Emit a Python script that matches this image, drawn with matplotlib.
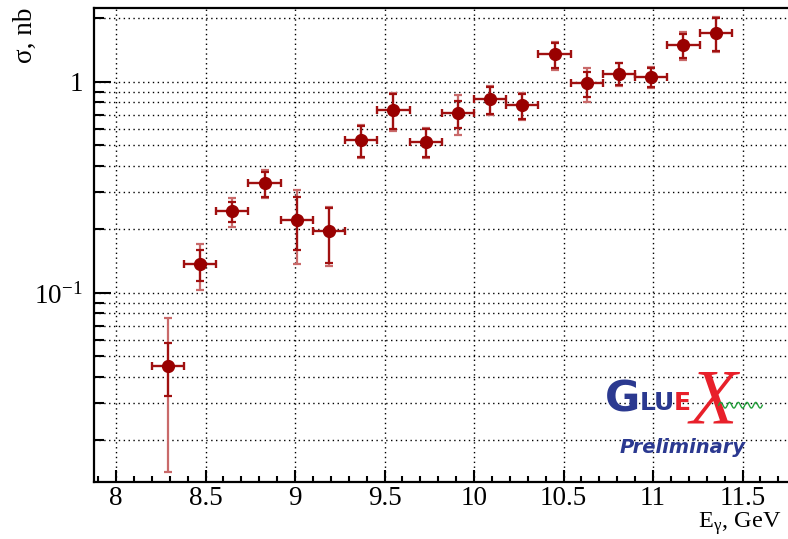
import matplotlib.pyplot as plt
import numpy as np
from matplotlib.ticker import LogLocator, NullFormatter, FixedLocator, MultipleLocator

plt.rcParams['font.family'] = ['Liberation Serif', 'DejaVu Serif']
plt.rcParams['mathtext.fontset'] = 'stix'

# photon energy bins (GeV)
E = [8.29, 8.47, 8.65, 8.83, 9.01, 9.19, 9.37, 9.55, 9.73, 9.91,
     10.09, 10.27, 10.45, 10.63, 10.81, 10.99, 11.17, 11.35]
E_err = [0.09] * 18
# cross section (nb)
sigma = [0.0451, 0.137, 0.245, 0.331, 0.222, 0.197, 0.531, 0.737, 0.521, 0.713,
         0.828, 0.778, 1.353, 0.986, 1.094, 1.056, 1.502, 1.70]
# statistical errors
stat_up = [0.013, 0.023, 0.025, 0.045, 0.064, 0.055, 0.090, 0.135, 0.078, 0.102,
           0.120, 0.100, 0.180, 0.133, 0.130, 0.110, 0.190, 0.300]
stat_dn = [0.0128, 0.0226, 0.0287, 0.045, 0.062, 0.058, 0.090, 0.140, 0.080, 0.106,
           0.120, 0.110, 0.190, 0.140, 0.125, 0.115, 0.210, 0.300]
# total errors
tot_up = [0.0313, 0.0337, 0.038, 0.051, 0.086, 0.059, 0.097, 0.147, 0.082, 0.155,
          0.133, 0.112, 0.195, 0.175, 0.141, 0.118, 0.218, 0.320]
tot_dn = [0.0310, 0.0337, 0.040, 0.050, 0.085, 0.063, 0.096, 0.151, 0.083, 0.152,
          0.130, 0.120, 0.213, 0.179, 0.137, 0.123, 0.226, 0.317]

fig = plt.figure(figsize=(7.88, 5.39), dpi=100)
ax = fig.add_axes([94 / 788, 57 / 539, 694 / 788, 474 / 539])

ax.errorbar(E, sigma, xerr=E_err, yerr=[tot_dn, tot_up], fmt='none',
            ecolor='#c96a6a', elinewidth=1.6, capsize=3, capthick=1.6, zorder=3)
ax.errorbar(E, sigma, xerr=E_err, yerr=[stat_dn, stat_up], fmt='none',
            ecolor='#a01010', elinewidth=1.6, capsize=3, capthick=1.6, zorder=4)
ax.plot(E, sigma, 'o', color='#990000', markersize=8.5, zorder=5)

ax.set_yscale('log')
ax.set_xlim(7.877, 11.754)
ax.set_ylim(0.0127, 2.24)

ax.xaxis.set_major_locator(FixedLocator([8, 8.5, 9, 9.5, 10, 10.5, 11, 11.5]))
ax.xaxis.set_minor_locator(MultipleLocator(0.1))
ax.set_xticklabels(['8', '8.5', '9', '9.5', '10', '10.5', '11', '11.5'])
ax.yaxis.set_minor_locator(LogLocator(base=10, subs=np.arange(2, 10)))
ax.yaxis.set_minor_formatter(NullFormatter())
ax.set_yticks([0.1, 1])
ax.set_yticklabels([r'$\mathregular{10^{-1}}$', '1'])

ax.tick_params(axis='both', which='both', direction='in', labelsize=19.5, width=1.5)
ax.tick_params(axis='x', which='major', length=9, pad=3)
ax.tick_params(axis='x', which='minor', length=4.5)
ax.tick_params(axis='y', which='major', length=12, pad=8)
ax.tick_params(axis='y', which='minor', length=7)

ax.grid(True, which='major', axis='x', color='black', linestyle=(0, (1, 2.5)), linewidth=1.0)
ax.grid(True, which='both', axis='y', color='black', linestyle=(0, (1, 2.5)), linewidth=1.0)
ax.set_axisbelow(True)

for s in ['left', 'bottom', 'top']:
    ax.spines[s].set_linewidth(1.6)
ax.spines['right'].set_visible(False)

fig.text(25 / 788, 1 - 8 / 539, 'σ, nb', rotation=90, ha='center', va='top', fontsize=19.5)
fig.text(0.992, 2 / 539, r'E$_\mathregular{γ}$, GeV', ha='right', va='bottom', fontsize=17.5)

# GlueX logo
blue = '#2b3990'
ax.text(0.761, 0.173, 'G', transform=ax.transAxes, ha='center', va='center',
        fontsize=31, fontweight='bold', color=blue, family='DejaVu Sans')
ax.text(0.812, 0.167, 'LU', transform=ax.transAxes, ha='center', va='center',
        fontsize=18, fontweight='bold', color=blue, family='DejaVu Sans')
ax.text(0.848, 0.167, 'E', transform=ax.transAxes, ha='center', va='center',
        fontsize=18, fontweight='bold', color='#e8202a', family='DejaVu Sans')
ax.text(0.893, 0.165, 'X', transform=ax.transAxes, ha='center', va='center',
        fontsize=56, style='italic', color='#e8202a', family='Liberation Serif')
wx = np.linspace(0.900, 0.963, 120)
ax.plot(wx, 0.162 + 0.006 * np.sin((wx - 0.900) / 0.063 * 2 * np.pi * 5),
        transform=ax.transAxes, color='#22a03a', lw=1.0, zorder=6)
ax.text(0.848, 0.072, 'Preliminary', transform=ax.transAxes, ha='center', va='center',
        fontsize=14, fontweight='bold', style='italic', color=blue, family='DejaVu Sans')

fig.savefig('out.png', dpi=100)
